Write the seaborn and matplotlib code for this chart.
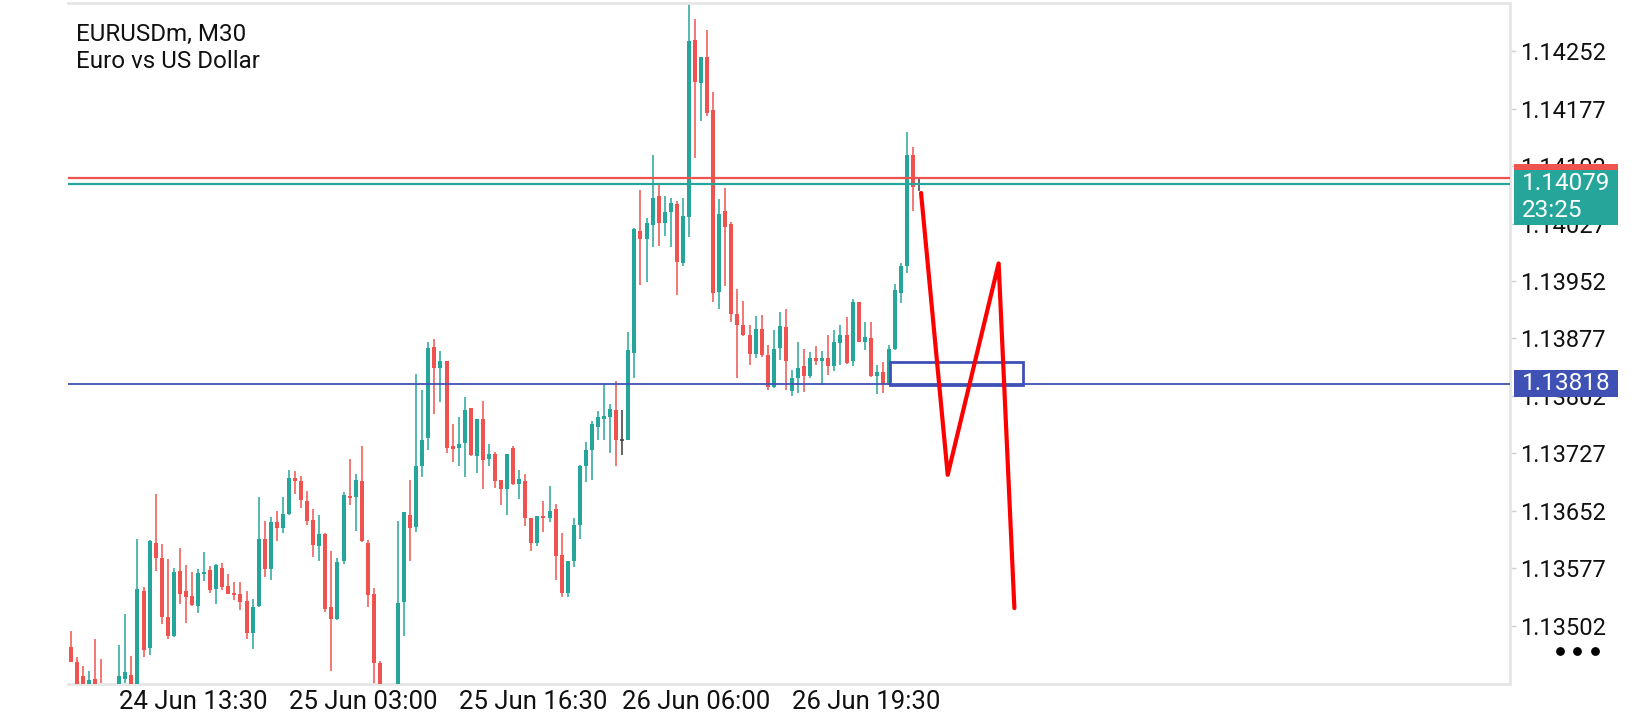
import numpy as np
import pandas as pd
import matplotlib
matplotlib.use("Agg")
import matplotlib.pyplot as plt
import matplotlib.transforms as mtransforms
from matplotlib.patches import Rectangle
import seaborn as sns

# EURUSDm M30 candles
opens = [1.13474, 1.13455, 1.13436, 1.13418, 1.13432, 1.13425, 1.13412, 1.13399, 1.13418, 1.13432,
         1.13438, 1.13418, 1.13547, 1.13473, 1.13610, 1.13590, 1.13514, 1.13489, 1.13573, 1.13547,
         1.13541, 1.13528, 1.13570, 1.13575, 1.13550, 1.13577, 1.13554, 1.13545, 1.13544, 1.13534,
         1.13493, 1.13528, 1.13615, 1.13576, 1.13637, 1.13629, 1.13648, 1.13695, 1.13691, 1.13665,
         1.13640, 1.13606, 1.13622, 1.13526, 1.13511, 1.13587, 1.13672, 1.13670, 1.13691, 1.13610,
         1.13543, 1.13453, 1.13405, 1.13385, 1.13405, 1.13533, 1.13647, 1.13631, 1.13711, 1.13747,
         1.13866, 1.13839, 1.13848, 1.13736, 1.13734, 1.13740, 1.13786, 1.13724, 1.13772, 1.13720,
         1.13726, 1.13692, 1.13680, 1.13734, 1.13687, 1.13691, 1.13643, 1.13610, 1.13645, 1.13643,
         1.13655, 1.13594, 1.13545, 1.13586, 1.13634, 1.13711, 1.13732, 1.13762, 1.13772, 1.13774,
         1.13784, 1.13745, 1.13745, 1.13858, 1.14018, 1.14007, 1.14025, 1.14063, 1.14028, 1.14042,
         1.14053, 1.13976, 1.14035, 1.14267, 1.14210, 1.14244, 1.14175, 1.13938, 1.14043, 1.14026,
         1.13909, 1.13895, 1.13881, 1.13857, 1.13889, 1.13855, 1.13814, 1.13865, 1.13892, 1.13808,
         1.13826, 1.13841, 1.13828, 1.13851, 1.13847, 1.13851, 1.13841, 1.13871, 1.13881, 1.13847,
         1.13924, 1.13873, 1.13878, 1.13828, 1.13833, 1.13818, 1.13863, 1.13937, 1.13971, 1.14117,
         1.14079]
highs = [1.13495, 1.13461, 1.13449, 1.13443, 1.13485, 1.13458, 1.13421, 1.13418, 1.13477, 1.13517,
         1.13462, 1.13615, 1.13552, 1.13614, 1.13674, 1.13609, 1.13589, 1.13577, 1.13603, 1.13581,
         1.13572, 1.13576, 1.13598, 1.13580, 1.13582, 1.13584, 1.13570, 1.13559, 1.13559, 1.13547,
         1.13537, 1.13670, 1.13639, 1.13644, 1.13652, 1.13670, 1.13705, 1.13704, 1.13697, 1.13678,
         1.13654, 1.13647, 1.13623, 1.13600, 1.13590, 1.13676, 1.13720, 1.13700, 1.13737, 1.13614,
         1.13551, 1.13456, 1.13418, 1.13405, 1.13639, 1.13651, 1.13692, 1.13831, 1.13810, 1.13872,
         1.13876, 1.13861, 1.13848, 1.13765, 1.13774, 1.13801, 1.13786, 1.13772, 1.13795, 1.13739,
         1.13729, 1.13692, 1.13726, 1.13736, 1.13705, 1.13700, 1.13643, 1.13645, 1.13665, 1.13684,
         1.13661, 1.13623, 1.13587, 1.13642, 1.13712, 1.13742, 1.13769, 1.13782, 1.13818, 1.13791,
         1.13821, 1.13783, 1.13885, 1.14021, 1.14071, 1.14034, 1.14117, 1.14077, 1.14063, 1.14061,
         1.14056, 1.14060, 1.14314, 1.14294, 1.14244, 1.14280, 1.14199, 1.14059, 1.14073, 1.14029,
         1.13941, 1.13926, 1.13895, 1.13906, 1.13908, 1.13869, 1.13888, 1.13911, 1.13916, 1.13836,
         1.13873, 1.13863, 1.13860, 1.13867, 1.13861, 1.13882, 1.13888, 1.13895, 1.13905, 1.13929,
         1.13924, 1.13899, 1.13899, 1.13842, 1.13846, 1.13869, 1.13948, 1.13976, 1.14146, 1.14127,
         1.14087]
lows = [1.13454, 1.13415, 1.13405, 1.13412, 1.13405, 1.13399, 1.13385, 1.13389, 1.13412, 1.13423,
        1.13412, 1.13412, 1.13461, 1.13464, 1.13573, 1.13504, 1.13485, 1.13487, 1.13530, 1.13505,
        1.13528, 1.13519, 1.13561, 1.13545, 1.13531, 1.13549, 1.13543, 1.13535, 1.13522, 1.13485,
        1.13472, 1.13527, 1.13566, 1.13562, 1.13612, 1.13623, 1.13647, 1.13674, 1.13656, 1.13633,
        1.13592, 1.13587, 1.13520, 1.13443, 1.13510, 1.13583, 1.13659, 1.13626, 1.13611, 1.13527,
        1.13418, 1.13399, 1.13379, 1.13372, 1.13399, 1.13489, 1.13586, 1.13624, 1.13696, 1.13732,
        1.13778, 1.13794, 1.13728, 1.13716, 1.13711, 1.13696, 1.13723, 1.13702, 1.13680, 1.13711,
        1.13682, 1.13659, 1.13647, 1.13686, 1.13668, 1.13632, 1.13599, 1.13606, 1.13625, 1.13638,
        1.13562, 1.13540, 1.13540, 1.13579, 1.13615, 1.13689, 1.13692, 1.13745, 1.13745, 1.13727,
        1.13711, 1.13725, 1.13744, 1.13826, 1.13947, 1.13951, 1.13997, 1.13998, 1.14011, 1.13997,
        1.13934, 1.13972, 1.14010, 1.14113, 1.14161, 1.14168, 1.13924, 1.13916, 1.13946, 1.13899,
        1.13826, 1.13880, 1.13843, 1.13851, 1.13853, 1.13810, 1.13812, 1.13849, 1.13810, 1.13802,
        1.13806, 1.13807, 1.13825, 1.13843, 1.13816, 1.13829, 1.13835, 1.13843, 1.13844, 1.13841,
        1.13872, 1.13862, 1.13827, 1.13805, 1.13806, 1.13816, 1.13862, 1.13923, 1.13962, 1.14044,
        1.14069]
closes = [1.13455, 1.13421, 1.13418, 1.13431, 1.13415, 1.13412, 1.13399, 1.13415, 1.13436, 1.13441,
          1.13418, 1.13550, 1.13470, 1.13612, 1.13590, 1.13514, 1.13489, 1.13572, 1.13544, 1.13540,
          1.13529, 1.13571, 1.13572, 1.13549, 1.13581, 1.13552, 1.13544, 1.13542, 1.13533, 1.13493,
          1.13526, 1.13615, 1.13576, 1.13637, 1.13629, 1.13648, 1.13695, 1.13691, 1.13666, 1.13639,
          1.13608, 1.13622, 1.13524, 1.13511, 1.13585, 1.13673, 1.13669, 1.13692, 1.13612, 1.13542,
          1.13453, 1.13405, 1.13385, 1.13405, 1.13532, 1.13650, 1.13630, 1.13711, 1.13744, 1.13865,
          1.13838, 1.13847, 1.13734, 1.13733, 1.13739, 1.13784, 1.13725, 1.13772, 1.13719, 1.13726,
          1.13691, 1.13680, 1.13726, 1.13687, 1.13694, 1.13643, 1.13610, 1.13645, 1.13643, 1.13652,
          1.13593, 1.13545, 1.13587, 1.13634, 1.13711, 1.13732, 1.13765, 1.13774, 1.13776, 1.13785,
          1.13745, 1.13745, 1.13862, 1.14020, 1.14007, 1.14028, 1.14060, 1.14028, 1.14042, 1.14054,
          1.13977, 1.14037, 1.14266, 1.14212, 1.14244, 1.14172, 1.13936, 1.14040, 1.14023, 1.13909,
          1.13895, 1.13881, 1.13857, 1.13889, 1.13855, 1.13814, 1.13863, 1.13893, 1.13847, 1.13826,
          1.13839, 1.13828, 1.13851, 1.13847, 1.13851, 1.13841, 1.13873, 1.13881, 1.13845, 1.13924,
          1.13873, 1.13879, 1.13828, 1.13833, 1.13818, 1.13863, 1.13940, 1.13972, 1.14117, 1.14075,
          1.14079]

# axis ticks
x_tick_pos = [8, 36, 64, 91, 119]
x_tick_labels = ["24 Jun 13:30", "25 Jun 03:00", "25 Jun 16:30", "26 Jun 06:00", "26 Jun 19:30"]
y_ticks = [1.13502, 1.13577, 1.13652, 1.13727, 1.13802, 1.13877, 1.13952, 1.14027, 1.14102, 1.14177, 1.14252]

# price lines / labels
bid = 1.14079
ask = 1.14087
level = 1.13818
timer_text = "23:25"

# hand-drawn objects on the chart
zig_x = [140.3, 144.7, 153.1, 155.7]
zig_y = [1.14067, 1.13699, 1.13975, 1.13525]
zone_x = [135.2, 157.1]
zone_y = [1.13816, 1.13846]

UP = "#26a69a"
DOWN = "#ef5350"
DOJI = "#3a3a3a"
BLUE = "#3f51b5"
GRID = "#e6e6e6"

sns.set_theme(style="white")
plt.rcParams['font.family'] = ['Roboto', 'DejaVu Sans']

df = pd.DataFrame({"open": opens, "high": highs, "low": lows, "close": closes})
df["idx"] = np.arange(len(df))
df["color"] = np.where(df.close > df.open, UP, np.where(df.close < df.open, DOWN, DOJI))

fig = plt.figure(figsize=(16.4, 7.2), dpi=100)
ax = fig.add_axes([0.0415, 0.05, 0.8793, 0.9458])

# wicks + bodies
ax.vlines(df.idx, df.low, df.high, colors=df.color, linewidth=1.1, zorder=2)
body_lo = df[["open", "close"]].min(axis=1)
body_h = (df.close - df.open).abs()
ax.bar(df.idx, body_h, bottom=body_lo, width=0.66, color=df.color, linewidth=0, zorder=3)
doji = df[df.close == df.open]
ax.hlines(doji.open, doji.idx - 0.33, doji.idx + 0.33, colors=DOJI, linewidth=1.1, zorder=3)

# price lines
ax.axhline(ask, color=DOWN, linewidth=1.6, zorder=4)
ax.axhline(bid, color=UP, linewidth=1.6, zorder=4)
ax.axhline(level, color=BLUE, linewidth=1.3, zorder=4)

# zone rectangle and red zigzag
ax.add_patch(Rectangle((zone_x[0], zone_y[0]), zone_x[1] - zone_x[0], zone_y[1] - zone_y[0],
                       fill=False, edgecolor=BLUE, linewidth=2.0, zorder=5))
sns.lineplot(x=zig_x, y=zig_y, sort=False, estimator=None, color="#ff0000",
             linewidth=3.0, ax=ax, zorder=6)

ax.set_xlim(-0.45, 237.5)
ax.set_ylim(1.134259, 1.14315)

# frame
for side in ["top", "bottom", "right"]:
    ax.spines[side].set_color(GRID)
    ax.spines[side].set_linewidth(2.0)
ax.spines["left"].set_visible(False)

ax.yaxis.tick_right()
ax.set_yticks(y_ticks)
ax.set_yticklabels([f"{v:.5f}" for v in y_ticks])
ax.tick_params(axis="y", length=4, width=1, color="#cfcfcf", labelsize=17,
               labelcolor="#111111", pad=3)
ax.set_xticks(x_tick_pos)
ax.set_xticklabels(x_tick_labels, ha="left")
ax.tick_params(axis="x", length=4, width=1, color="#d5d5d5", labelsize=18.5,
               labelcolor="#111111", pad=0.5)
ax.set_xlabel("")
ax.set_ylabel("")

# right-hand price labels
bt = mtransforms.blended_transform_factory(ax.transAxes, ax.transData)
box_x, box_w = 1.0028, 0.0721
ax.add_patch(Rectangle((box_x, ask - 0.00018), box_w, 0.00036, transform=bt,
                       facecolor=DOWN, edgecolor="none", clip_on=False, zorder=10))
ax.add_patch(Rectangle((box_x, bid - 0.00054), box_w, 0.00072, transform=bt,
                       facecolor=UP, edgecolor="none", clip_on=False, zorder=11))
ax.add_patch(Rectangle((box_x, level - 0.00018), box_w, 0.00036, transform=bt,
                       facecolor=BLUE, edgecolor="none", clip_on=False, zorder=10))
ax.text(1.0083, bid, f"{bid:.5f}", transform=bt, color="white", fontsize=17.5,
        va="center", ha="left", zorder=12, clip_on=False)
ax.text(1.0083, bid - 0.00035, timer_text, transform=bt, color="white", fontsize=17.5,
        va="center", ha="left", zorder=12, clip_on=False)
ax.text(1.0083, level, f"{level:.5f}", transform=bt, color="white", fontsize=17.5,
        va="center", ha="left", zorder=12, clip_on=False)

# symbol caption
ax.text(0.0055, 0.9538, "EURUSDm, M30", transform=ax.transAxes, fontsize=17.4,
        color="#111111", va="center", ha="left")
ax.text(0.0055, 0.9138, "Euro vs US Dollar", transform=ax.transAxes, fontsize=17.4,
        color="#111111", va="center", ha="left")

# menu dots bottom right
ax.scatter([1.0347, 1.0465, 1.0590], [0.0485] * 3, s=28, color="black",
           transform=ax.transAxes, clip_on=False, zorder=12)

fig.savefig("out.png", dpi=100)
